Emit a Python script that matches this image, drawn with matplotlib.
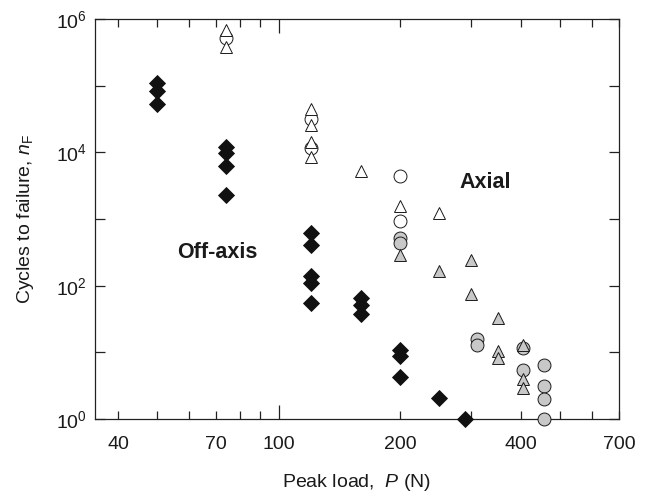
import matplotlib
matplotlib.use("Agg")
import matplotlib.pyplot as plt
from matplotlib.ticker import FixedLocator, FuncFormatter

plt.rcParams['font.family'] = ['Liberation Sans', 'DejaVu Sans']
plt.rcParams['mathtext.fontset'] = 'custom'
plt.rcParams['mathtext.rm'] = 'Liberation Sans'
plt.rcParams['mathtext.it'] = 'Liberation Sans:italic'
plt.rcParams['mathtext.bf'] = 'Liberation Sans:bold'

# Off-axis (black diamonds)
off_P = [50, 50, 50, 74, 74, 74, 74, 120, 120, 120, 120, 120, 160, 160, 160, 200, 200, 200, 250, 290]
off_n = [1.11e5, 8.3e4, 5.3e4, 1.2e4, 9.8e3, 6.2e3, 2.3e3, 620, 414, 139, 110, 55, 66, 52, 37, 10.8, 8.8, 4.2, 2.1, 1.0]

# Axial, open circles
oc_P = [74, 120, 120, 200, 200]
oc_n = [5.1e5, 3.2e4, 1.15e4, 4.4e3, 920]

# Axial, open triangles
ot_P = [74, 74, 120, 120, 120, 120, 160, 200, 250]
ot_n = [6.8e5, 3.85e5, 4.4e4, 2.6e4, 1.45e4, 8.5e3, 5.2e3, 1.55e3, 1.23e3]

# Axial, grey circles
gc_P = [200, 200, 310, 310, 405, 405, 455, 455, 455, 455]
gc_n = [520, 437, 16, 13, 11.8, 5.4, 6.5, 3.1, 2.0, 1.0]

# Axial, grey triangles
gt_P = [200, 250, 300, 300, 350, 350, 350, 405, 405, 405]
gt_n = [293, 165, 245, 76, 33, 10.5, 8.3, 13, 3.95, 2.95]

xlabels_shown = [40, 70, 100, 200, 400, 700]

fig = plt.figure(figsize=(6.45, 4.95), dpi=100)
ax = fig.add_axes([95/645, 1-419/495, (619-95)/645, (419-19)/495])

grey = '#c8c8c8'
edge = '#1a1a1a'
ax.plot(off_P, off_n, 'D', ms=8.2, mfc='#111111', mec='#111111', mew=0.6, ls='none', clip_on=False, zorder=3)
ax.plot(gc_P, gc_n, 'o', ms=9.3, mfc=grey, mec=edge, mew=0.7, ls='none', clip_on=False, zorder=4)
ax.plot(gt_P, gt_n, '^', ms=9.3, mfc=grey, mec=edge, mew=0.7, ls='none', clip_on=False, zorder=5)
ax.plot(oc_P, oc_n, 'o', ms=9.3, mfc='white', mec=edge, mew=0.7, ls='none', clip_on=False, zorder=6)
ax.plot(ot_P, ot_n, '^', ms=9.3, mfc='white', mec=edge, mew=0.7, ls='none', clip_on=False, zorder=7)

ax.set_xscale('log')
ax.set_yscale('log')
ax.set_xlim(35, 700)
ax.set_ylim(1, 1e6)

ax.xaxis.set_major_locator(FixedLocator([100]))
ax.xaxis.set_minor_locator(FixedLocator([40, 50, 60, 70, 80, 90, 200, 300, 400, 500, 600, 700]))

def xfmt(v, pos):
    for s in xlabels_shown:
        if abs(v - s) < 1e-6:
            return str(s)
    return ''

ax.xaxis.set_major_formatter(FuncFormatter(xfmt))
ax.xaxis.set_minor_formatter(FuncFormatter(xfmt))

ax.yaxis.set_major_locator(FixedLocator([1, 10, 100, 1e3, 1e4, 1e5, 1e6]))
ax.yaxis.set_minor_locator(FixedLocator([]))
ax.yaxis.set_major_formatter(FuncFormatter(
    lambda v, p: {1: '$10^0$', 100: '$10^2$', 1e4: '$10^4$', 1e6: '$10^6$'}.get(round(v), '')))

txt = '#1a1a1a'
ax.tick_params(which='both', direction='in', top=True, right=True, width=0.9, colors='#222222', labelcolor=txt, labelsize=14)
ax.tick_params(axis='x', which='major', length=10)
ax.tick_params(axis='x', which='minor', length=6)
ax.tick_params(axis='y', which='major', length=7, pad=6)
ax.tick_params(axis='x', which='both', pad=12)

for s in ax.spines.values():
    s.set_linewidth(0.9)
    s.set_color('#222222')

ax.set_xlabel('Peak load,  $P$ (N)', fontsize=14, color=txt, labelpad=14)
ax.set_ylabel('Cycles to failure, $n_\\mathrm{F}$', fontsize=14, color=txt, labelpad=14)

ax.text(70.3, 314, 'Off-axis', fontsize=15.5, fontweight='bold', ha='center', va='center', color=txt)
ax.text(326, 3.5e3, 'Axial', fontsize=15.5, fontweight='bold', ha='center', va='center', color=txt)

fig.savefig('out.png', dpi=100)
